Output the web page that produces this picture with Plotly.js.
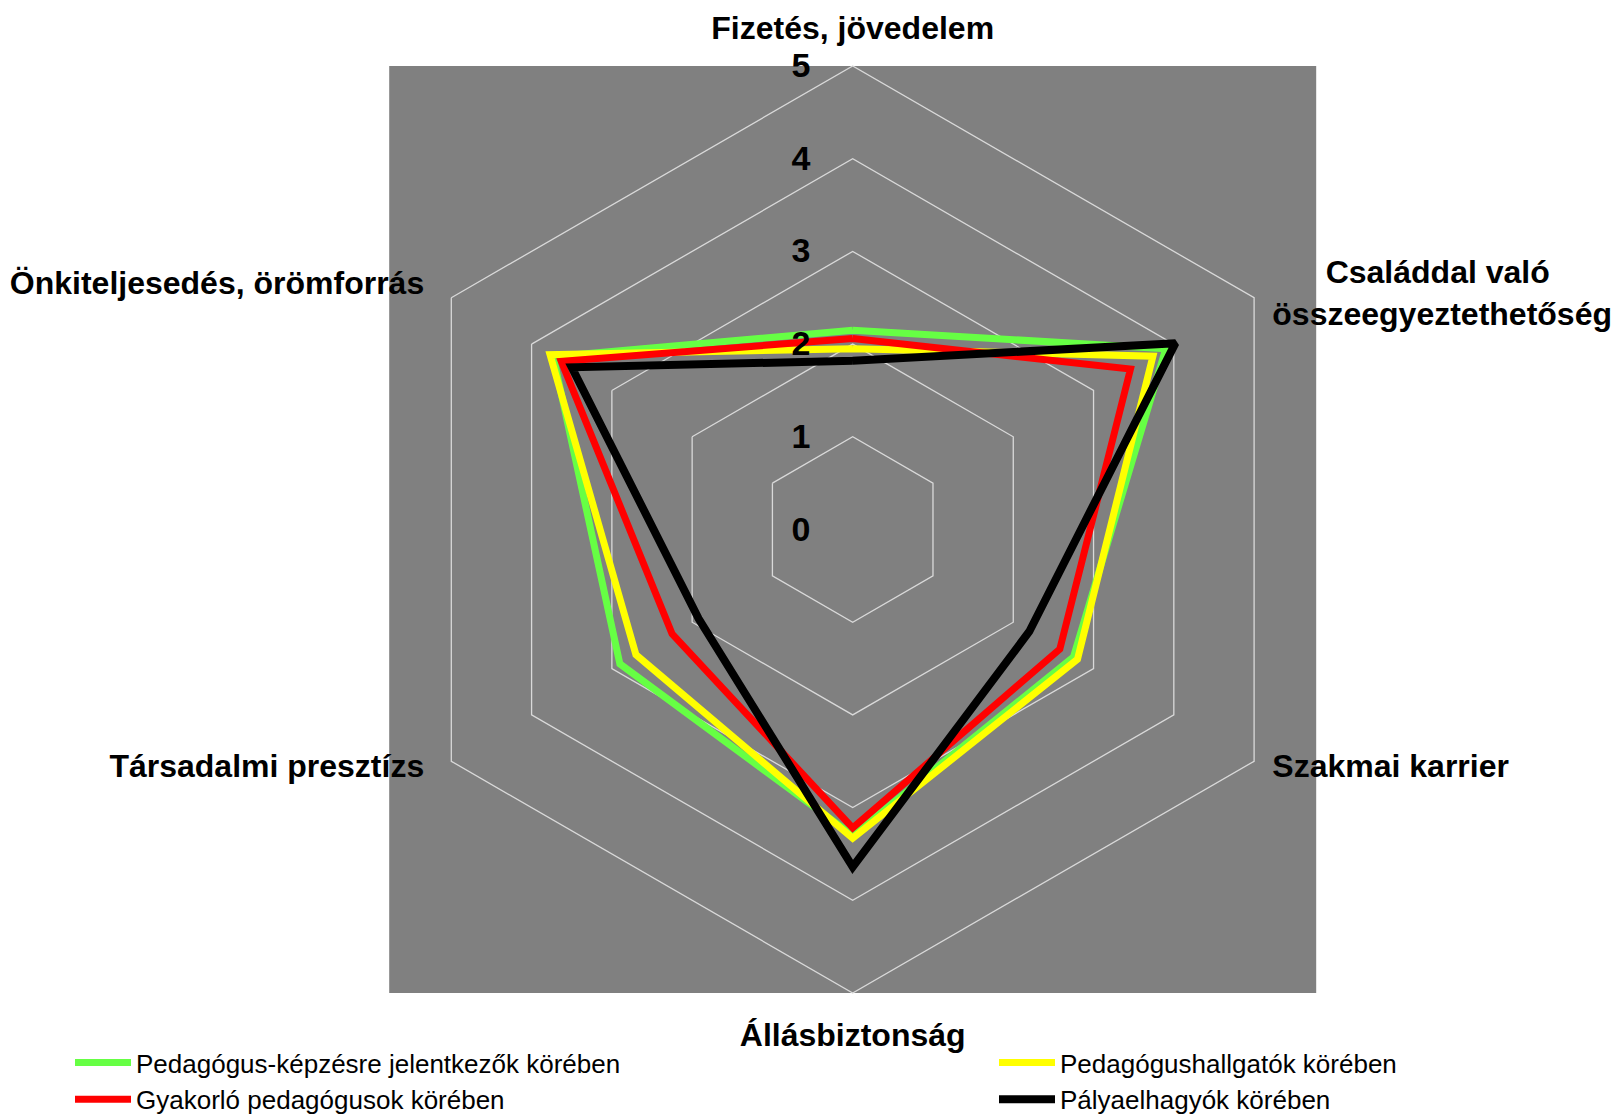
<!DOCTYPE html>
<html>
<head>
<meta charset="utf-8">
<script src="https://cdn.plot.ly/plotly-3.0.1.min.js"></script>
<style>
html, body { margin: 0; padding: 0; background: #ffffff; }
#chart { width: 1612px; height: 1114px; }
</style>
</head>
<body>
<div id="chart"></div>
<script>
// Categories (clockwise from top)
const categories = [
  "Fizetés, jövedelem",
  "<br><br>\u00A0\u00A0\u00A0\u00A0\u00A0\u00A0Családdal való<br>összeegyeztethetőség",
  "Szakmai karrier<br><br>",
  "Állásbiztonság",
  "Társadalmi presztízs\u00A0<br><br>",
  "Önkiteljesedés, örömforrás\u00A0"
];

// Series names
const seriesNames = [
  "Pedagógus-képzésre jelentkezők körében",
  "Pedagógushallgatók körében",
  "Gyakorló pedagógusok körében",
  "Pályaelhagyók körében"
];

// Values per series
const jelentkezok = [2.15, 3.90, 2.75, 3.30, 2.90, 3.73];
const hallgatok   = [1.95, 3.74, 2.80, 3.33, 2.70, 3.77];
const gyakorlo    = [2.06, 3.46, 2.58, 3.22, 2.25, 3.63];
const palyaelhagy = [1.82, 4.02, 2.20, 3.64, 1.92, 3.50];

// Radial ticks
const radialTicks = [0, 1, 2, 3, 4, 5];

const colors = ["#66FF44", "#FFFF00", "#FF0000", "#000000"];
const widths = [7, 7, 7, 8];
const legendIds = ["legend", "legend2", "legend", "legend2"];
const allValues = [jelentkezok, hallgatok, gyakorlo, palyaelhagy];

const closeLoop = arr => arr.concat([arr[0]]);

const traces = allValues.map((vals, i) => ({
  type: "scatterpolar",
  mode: "lines",
  r: closeLoop(vals),
  theta: closeLoop(categories),
  name: seriesNames[i],
  legend: legendIds[i],
  line: { color: colors[i], width: widths[i] },
  hoverinfo: "skip"
}));

const W = 1612, H = 1114;
const cx = 852.7, cy = 529.5, R = 463.5;
const dom = {
  x: [(cx - R) / W, (cx + R) / W],
  y: [1 - (cy + R) / H, 1 - (cy - R) / H]
};

const fontFamily = "'Liberation Sans', Arial, sans-serif";

const legendBase = {
  orientation: "v",
  xanchor: "left",
  y: 1 - 1039 / H,
  yanchor: "top",
  bgcolor: "rgba(0,0,0,0)",
  font: { family: fontFamily, size: 26, color: "#000000" },
  itemwidth: 56,
  traceorder: "normal",
  tracegroupgap: 0
};

const layout = {
  width: W,
  height: H,
  margin: { l: 0, r: 0, t: 0, b: 0, autoexpand: false },
  paper_bgcolor: "#ffffff",
  showlegend: true,
  shapes: [{
    type: "rect", xref: "paper", yref: "paper",
    x0: dom.x[0], x1: dom.x[1], y0: dom.y[0], y1: dom.y[1],
    fillcolor: "#808080", line: { width: 0 }, layer: "below"
  }],
  polar: {
    domain: dom,
    bgcolor: "rgba(0,0,0,0)",
    gridshape: "linear",
    radialaxis: {
      range: [0, 5],
      tickvals: radialTicks,
      ticktext: radialTicks.map(String),
      angle: 90,
      tickangle: 90,
      side: "counterclockwise",
      showline: false,
      ticks: "outside",
      ticklen: 30,
      tickcolor: "rgba(0,0,0,0)",
      gridcolor: "#d9d9d9",
      gridwidth: 1.3,
      tickfont: { family: fontFamily, size: 34, color: "#000000", weight: "bold" }
    },
    angularaxis: {
      type: "category",
      categoryarray: categories,
      direction: "clockwise",
      rotation: 90,
      showgrid: false,
      showline: true,
      linecolor: "#d9d9d9",
      linewidth: 1.3,
      ticks: "outside",
      ticklen: 14,
      tickcolor: "rgba(0,0,0,0)",
      tickfont: { family: fontFamily, size: 32, color: "#000000", weight: "bold" }
    }
  },
  legend: Object.assign({}, legendBase, { x: 70 / W }),
  legend2: Object.assign({}, legendBase, { x: 994 / W })
};

Plotly.newPlot("chart", traces, layout, { displayModeBar: false, staticPlot: true });
</script>
</body>
</html>
